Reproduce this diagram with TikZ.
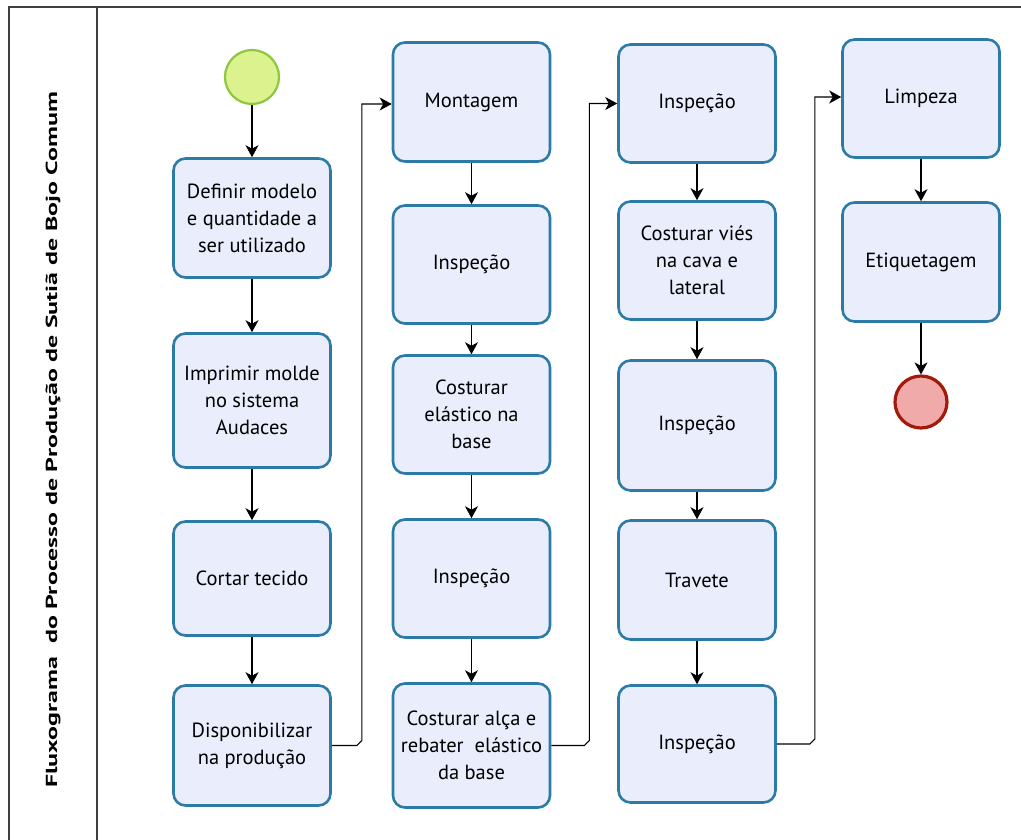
\documentclass[tikz,border=0pt]{standalone}
\usepackage{fontspec}
\setmainfont{PT Sans}
\usetikzlibrary{arrows.meta}
\definecolor{boxline}{HTML}{2B7BA6}
\definecolor{boxfill}{HTML}{E9EDFC}
\definecolor{startfill}{HTML}{DCF28E}
\definecolor{startline}{HTML}{8DC63F}
\definecolor{endfill}{HTML}{F0AAAA}
\definecolor{endline}{HTML}{A11A0A}
\tikzset{
  task/.style={draw=boxline, line width=2.6pt, fill=boxfill, rounded corners=12pt,
    minimum width=157pt, align=center, font=\fontsize{20.5}{27}\selectfont, inner sep=0pt},
  flow/.style={draw=black, line width=1.1pt, -{Stealth[length=12pt,width=13pt,inset=3.5pt]}},
  frame/.style={draw=black!75, line width=1.4pt}
}
\newcommand{\tk}[5]{\node[task, minimum height=#4pt] (#1) at (#2,#3) {#5};}
\begin{document}
\begin{tikzpicture}[x=1pt,y=-1pt]
\useasboundingbox (0,0) rectangle (1021,839);
\draw[frame] (9,840) -- (9,7) -- (1022,7);
\draw[frame] (97,7) -- (97,840);
\node[rotate=90, inner sep=0pt] (title) at (53,440) {\bfseries\fontsize{16}{20}\selectfont\scalebox{1.62}[1]{Fluxograma\ \ do Processo de Produção de Sutiã de Bojo Comum}};
% column 1
\node[circle, draw=startline, fill=startfill, line width=2.2pt, minimum size=54pt, inner sep=0pt] (start) at (252,77) {};
\tk{a1}{252}{218}{119}{Definir modelo\\e quantidade a\\ser utilizado}
\tk{a2}{252}{400.5}{134}{Imprimir molde\\no sistema\\Audaces}
\tk{a3}{252}{578.5}{114}{Cortar tecido}
\tk{a4}{252}{745.5}{120}{Disponibilizar\\na produção}
% column 2
\tk{b1}{471.5}{102}{119}{Montagem}
\tk{b2}{471.5}{264.5}{118}{Inspeção}
\tk{b3}{471.5}{414.5}{118}{Costurar\\elástico na\\base}
\tk{b4}{471.5}{578.5}{118}{Inspeção}
\tk{b5}{471.5}{745.5}{124}{Costurar alça e\\rebater\ \ elástico\\da base}
% column 3
\tk{c1}{697}{103.5}{118}{Inspeção}
\tk{c2}{697}{260.5}{118}{Costurar viés\\na cava e\\lateral}
\tk{c3}{697}{425.5}{130}{Inspeção}
\tk{c4}{697}{580}{119}{Travete}
\tk{c5}{697}{744}{117}{Inspeção}
% column 4
\tk{d1}{921}{98.5}{118}{Limpeza}
\tk{d2}{921}{262}{119}{Etiquetagem}
\node[circle, draw=endline, fill=endfill, line width=3.2pt, minimum size=52pt, inner sep=0pt] (end) at (921,402) {};
% vertical flows
\draw[flow] (start) -- (a1);
\draw[flow] (a1) -- (a2);
\draw[flow] (a2) -- (a3);
\draw[flow] (a3) -- (a4);
\draw[flow] (b1) -- (b2);
\draw[flow] (b2) -- (b3);
\draw[flow] (b3) -- (b4);
\draw[flow] (b4) -- (b5);
\draw[flow] (c1) -- (c2);
\draw[flow] (c2) -- (c3);
\draw[flow] (c3) -- (c4);
\draw[flow] (c4) -- (c5);
\draw[flow] (d1) -- (d2);
\draw[flow] (d2) -- (end);
% column links
\draw[flow] (a4.east) -- ++(25,0) -- ++(5,-5) |- ([yshift=-2pt]b1.west) ;
\draw[flow] (b5.east) -- ++(33,0) -- ++(5,-5) |- (c1.west);
\draw[flow] (c5.east) -- ++(33,0) -- ++(5,-5) |- ([yshift=1.5pt]d1.west);
\end{tikzpicture}
\end{document}
